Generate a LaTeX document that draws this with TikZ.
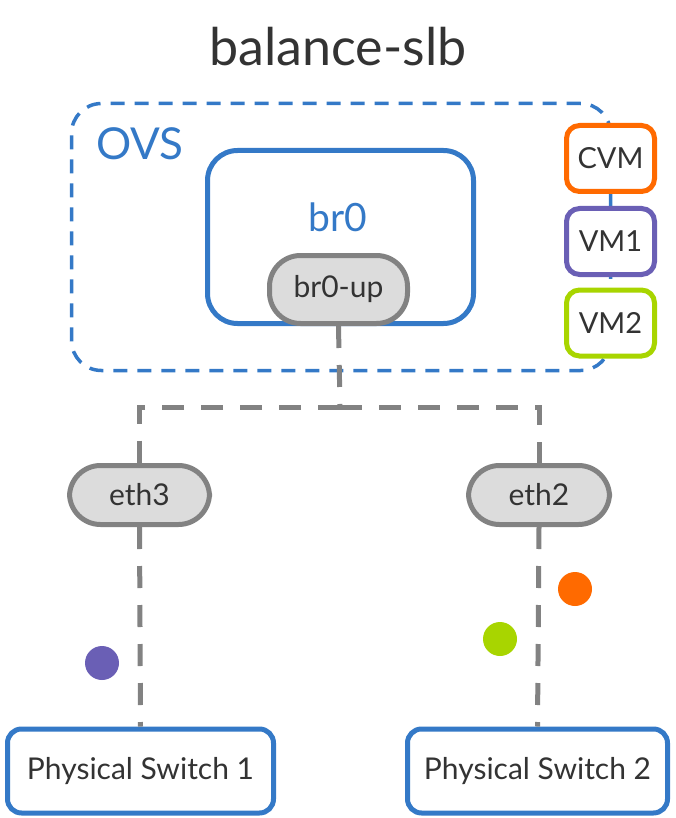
\documentclass[tikz,border=0pt]{standalone}
\usepackage{fontspec}
\setmainfont{Lato}
\usepackage{xcolor}
\usepackage{tikz}
\usetikzlibrary{shapes,arrows,positioning,calc}

\definecolor{ovsblue}{HTML}{3479C7}
\definecolor{portgray}{HTML}{828282}
\definecolor{portfill}{HTML}{DCDCDC}
\definecolor{txtgray}{HTML}{333333}
\definecolor{cvmorange}{HTML}{FF6A00}
\definecolor{vmpurple}{HTML}{6A5FB5}
\definecolor{vmgreen}{HTML}{A8D500}

\tikzset{
    port/.style={draw=portgray, fill=portfill, line width=5pt, rounded corners=31pt,
        font=\fontsize{30}{34}\selectfont, text=txtgray, inner sep=0pt},
    vmbox/.style={fill=white, line width=5pt, rounded corners=13pt, minimum width=88pt,
        minimum height=66pt, font=\fontsize{29}{33}\selectfont, text=txtgray, inner sep=0pt},
    switchbox/.style={draw=ovsblue, fill=white, line width=5pt, rounded corners=14pt,
        minimum height=84pt, font=\fontsize{30}{34}\selectfont, text=txtgray, inner sep=0pt},
    wire/.style={draw=portgray, line width=5pt, dash pattern=on 22pt off 17pt},
}

\begin{document}
\begin{tikzpicture}[x=1pt, y=-1pt]
    \useasboundingbox (0,0) rectangle (676,818);

    % Title
    \node[font=\fontsize{52}{58}\selectfont, text=txtgray] (title) at (338,47) {balance-slb};

    % OVS container
    \node[draw=ovsblue, line width=3.5pt, dash pattern=on 14pt off 10pt, rounded corners=30pt,
        minimum width=539pt, minimum height=267pt] (ovs) at (341,237) {};
    \node[text=ovsblue, font=\fontsize{44}{48}\selectfont] (ovslbl) at (140,144) {OVS};

    % Bridge
    \node[draw=ovsblue, line width=5pt, rounded corners=30pt,
        minimum width=266pt, minimum height=173pt] (br0) at (340.5,237) {};
    \node[text=ovsblue, font=\fontsize{39}{43}\selectfont] (br0lbl) at (338,217) {br0};
    \node[port, minimum width=138pt, minimum height=68pt] (br0up) at (338.5,289.5) {br0-up};

    % VMs
    \foreach \n/\y/\c in {CVM/158.5/cvmorange, VM1/241.5/vmpurple, VM2/323/vmgreen}
        \node[vmbox, draw=\c] (\n) at (610.5,\y) {\n};

    % Uplinks
    \node[port, minimum width=140pt, minimum height=59pt] (eth3) at (139.5,495) {eth3};
    \node[port, minimum width=141pt, minimum height=59pt] (eth2) at (539,495) {eth2};

    \coordinate (split) at (340,407);
    \draw[wire] (br0up.south) -- (split);
    \draw[wire] (split) -| (eth3.north);
    \draw[wire] (split) -| (eth2.north);

    % Physical switches
    \node[switchbox, minimum width=266pt] (ps1) at (140.5,771) {Physical Switch 1};
    \node[switchbox, minimum width=260pt] (ps2) at (537.5,771) {Physical Switch 2};

    \draw[wire] (eth3.south) -- (ps1.north);
    \draw[wire] (eth2.south) -- (ps2.north);

    % Traffic of each VM
    \foreach \n/\x/\y/\c in {dotvm1/102/663/vmpurple, dotcvm/575/589/cvmorange, dotvm2/500/639/vmgreen}
        \node[circle, fill=\c, minimum size=34pt, inner sep=0pt] (\n) at (\x,\y) {};
\end{tikzpicture}
\end{document}
